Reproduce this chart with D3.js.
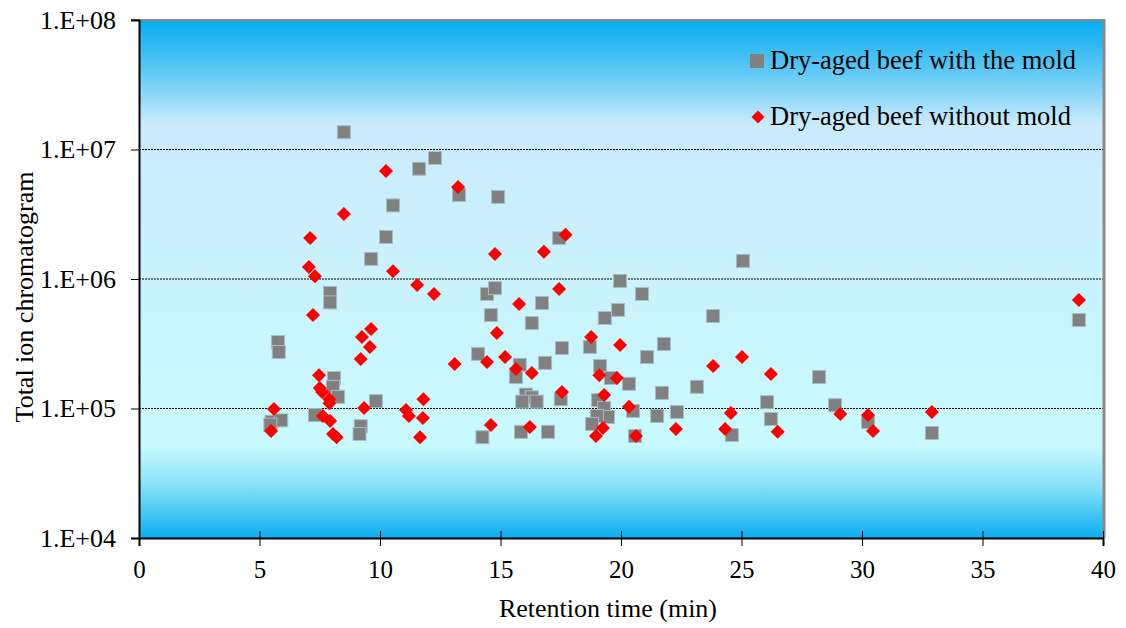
<!DOCTYPE html>
<html>
<head>
<meta charset="utf-8">
<script src="https://cdn.jsdelivr.net/npm/d3@7"></script>
<style>
  body { margin: 0; background: #fff; }
  svg text { font-family: "Liberation Serif", "Tinos", "DejaVu Serif", serif; fill: #000; }
</style>
</head>
<body>
<svg id="chart" width="1126" height="628"></svg>
<script>
// Retention time (min) and total ion chromatogram for each series
const moldTime = [8.5, 11.62, 10.54, 12.28, 13.28, 14.9, 10.25, 9.63, 7.93, 7.93, 14.44, 14.77, 14.6,
  5.77, 5.8, 14.07, 8.09, 8.05, 8.26, 9.83, 7.3, 5.5, 5.9, 5.45, 9.2, 9.15, 14.25,
  17.43, 19.96, 20.87, 16.72, 16.3, 19.88, 19.33, 21.78, 17.55, 18.71, 21.08, 15.8, 15.64,
  16.85, 19.13, 19.58, 20.33, 21.7, 16.05, 16.3, 16.5, 15.9, 17.5, 19.05, 19.3, 19.46, 19.0,
  18.8, 20.5, 21.5, 22.32, 15.85, 16.97, 20.58, 25.06, 23.82, 23.15, 28.22, 26.06, 26.22,
  28.88, 30.25, 24.6, 32.9, 39.0];
const moldTic = [1.36e7, 7.1e6, 3.7e6, 8.6e6, 4.45e6, 4.3e6, 2.11e6, 1.43e6, 7.8e5, 6.6e5, 7.66e5, 8.5e5, 5.27e5,
  3.26e5, 2.73e5, 2.64e5, 1.72e5, 1.47e5, 1.23e5, 1.14e5, 8.9e4, 7.9e4, 8.1e4, 7.5e4, 7.3e4, 6.35e4, 6.0e4,
  2.07e6, 9.66e5, 7.66e5, 6.53e5, 4.57e5, 5.77e5, 5.0e5, 3.15e5, 2.93e5, 2.99e5, 2.5e5, 2.17e5, 1.75e5,
  2.25e5, 2.13e5, 1.72e5, 1.55e5, 1.32e5, 1.28e5, 1.22e5, 1.13e5, 1.13e5, 1.18e5, 1.16e5, 1.01e5, 8.6e4, 8.75e4,
  7.6e4, 9.57e4, 8.75e4, 9.4e4, 6.6e4, 6.6e4, 6.13e4, 1.38e6, 5.18e5, 1.47e5, 1.75e5, 1.12e5, 8.3e4,
  1.06e5, 7.87e4, 6.24e4, 6.47e4, 4.82e5];

const noMoldTime = [10.25, 13.24, 8.5, 7.1, 7.05, 7.3, 10.54, 11.54, 12.24, 14.77, 7.22, 9.63, 9.25, 9.58,
  9.2, 14.85, 13.1, 14.44, 7.47, 7.5, 7.6, 7.9, 7.9, 11.8, 5.6, 9.34, 11.08, 11.2, 11.78, 7.63, 7.93,
  14.6, 5.48, 8.05, 8.2, 11.66, 15.77, 18.76, 19.96, 15.19, 15.64, 16.3, 19.1, 19.83, 17.55, 19.3,
  20.33, 16.22, 19.25, 18.96, 20.62, 22.28, 25.02, 23.82, 26.22, 24.56, 24.32, 26.5, 29.1, 30.25,
  30.46, 32.9, 16.8, 17.43, 17.7, 39.0];
const noMoldTic = [6.82e6, 5.13e6, 3.18e6, 2.07e6, 1.24e6, 1.05e6, 1.15e6, 9.0e5, 7.66e5, 1.56e6, 5.27e5, 4.11e5, 3.56e5, 2.99e5,
  2.41e5, 3.83e5, 2.21e5, 2.29e5, 1.81e5, 1.44e5, 1.34e5, 1.18e5, 1.10e5, 1.18e5, 9.9e4, 1.01e5, 9.73e4, 8.75e4, 8.45e4, 8.75e4, 8.0e4,
  7.46e4, 6.7e4, 6.35e4, 6.0e4, 6.0e4, 6.41e5, 3.56e5, 3.09e5, 2.5e5, 2.02e5, 1.88e5, 1.81e5, 1.72e5, 1.34e5, 1.27e5,
  1.03e5, 7.2e4, 7.07e4, 6.13e4, 6.13e4, 6.95e4, 2.5e5, 2.13e5, 1.85e5, 9.23e4, 6.95e4, 6.6e4, 9.07e4, 8.9e4,
  6.7e4, 9.4e4, 1.62e6, 8.37e5, 2.2e6, 6.88e5];

const xTicks = [0, 5, 10, 15, 20, 25, 30, 35, 40];
const yTicks = [1e4, 1e5, 1e6, 1e7, 1e8];
const yTickLabels = ["1.E+04", "1.E+05", "1.E+06", "1.E+07", "1.E+08"];
const seriesNames = ["Dry-aged beef with the mold", "Dry-aged beef without mold"];

const serif = "'Liberation Serif', 'Tinos', 'DejaVu Serif', serif";

const svg = d3.select("#chart");
const margin = { top: 20, right: 23, bottom: 90, left: 139 };
const width = 1126, height = 628;
const plotW = width - margin.left - margin.right;
const plotH = height - margin.top - margin.bottom;

const x = d3.scaleLinear().domain([0, 40]).range([margin.left, margin.left + plotW]);
const y = d3.scaleLog().domain([1e4, 1e8]).range([margin.top + plotH, margin.top]);

// Background gradient
const defs = svg.append("defs");
const grad = defs.append("linearGradient").attr("id", "bg").attr("x1", 0).attr("y1", 0).attr("x2", 0).attr("y2", 1);
[[0, "#05acef"], [0.1, "#5fc9f5"], [0.2, "#c9ebfc"], [0.5, "#caf3fd"], [0.82, "#c8fafd"], [0.9, "#86e2f8"], [1, "#0aaeee"]]
  .forEach(s => grad.append("stop").attr("offset", s[0]).attr("stop-color", s[1]));

svg.append("rect")
  .attr("x", margin.left).attr("y", margin.top)
  .attr("width", plotW).attr("height", plotH)
  .attr("fill", "url(#bg)");

// Dotted gridlines
svg.append("g")
  .selectAll("line")
  .data(yTicks.filter(d => d > 1e4 && d < 1e8))
  .join("line")
  .attr("x1", margin.left).attr("x2", margin.left + plotW)
  .attr("y1", d => y(d)).attr("y2", d => y(d))
  .attr("stroke", "#000").attr("stroke-width", 1)
  .attr("stroke-dasharray", "2,1");

// Top and right frame (gray)
svg.append("line")
  .attr("x1", margin.left - 8).attr("x2", margin.left + plotW + 1)
  .attr("y1", margin.top).attr("y2", margin.top)
  .attr("stroke", "#8a8a8a").attr("stroke-width", 2);
svg.append("line")
  .attr("x1", margin.left + plotW + 1).attr("x2", margin.left + plotW + 1)
  .attr("y1", margin.top - 1).attr("y2", margin.top + plotH)
  .attr("stroke", "#8a8a8a").attr("stroke-width", 3);

// Axes
const yAxis = svg.append("g")
  .attr("transform", `translate(${margin.left},0)`)
  .attr("font-family", serif)
  .call(d3.axisLeft(y).tickValues(yTicks).tickFormat((d, i) => yTickLabels[i]).tickSize(8).tickPadding(15));
yAxis.attr("font-family", serif).attr("font-size", 26);
yAxis.select(".domain").attr("stroke-width", 2);

const xAxis = svg.append("g")
  .attr("transform", `translate(0,${margin.top + plotH})`)
  .call(d3.axisBottom(x).tickValues(xTicks).tickSize(8).tickPadding(14));
xAxis.attr("font-family", serif).attr("font-size", 25);
xAxis.select(".domain").attr("stroke-width", 2);
xAxis.selectAll(".tick line").attr("y1", -7);

// Points: squares (with mold)
const moldData = moldTime.map((t, i) => ({ t, v: moldTic[i] }));
const noMoldData = noMoldTime.map((t, i) => ({ t, v: noMoldTic[i] }));
const sq = 13;

svg.append("g")
  .selectAll("rect")
  .data(moldData)
  .join("rect")
  .attr("x", d => x(d.t) - sq / 2)
  .attr("y", d => y(d.v) - sq / 2)
  .attr("width", sq).attr("height", sq)
  .attr("fill", "#808080")
  .attr("stroke", "#a9bcc4").attr("stroke-width", 1);

// Points: diamonds (without mold)
const diamond = d3.symbol().type(d3.symbolSquare).size(98);
svg.append("g")
  .selectAll("path")
  .data(noMoldData)
  .join("path")
  .attr("d", diamond)
  .attr("transform", d => `translate(${x(d.t)},${y(d.v)}) rotate(45)`)
  .attr("fill", "#ff0000");

// Legend
const legend = svg.append("g").attr("font-family", serif).attr("font-size", 26.5);
legend.append("rect")
  .attr("x", 750).attr("y", 54).attr("width", 14).attr("height", 14)
  .attr("fill", "#808080");
legend.append("text")
  .attr("x", 770).attr("y", 69)
  .text(seriesNames[0]);
legend.append("path")
  .attr("d", d3.symbol().type(d3.symbolSquare).size(85))
  .attr("transform", "translate(758,117) rotate(45)")
  .attr("fill", "#ff0000");
legend.append("text")
  .attr("x", 770).attr("y", 125)
  .text(seriesNames[1]);

// Axis titles
svg.append("text")
  .attr("x", 608).attr("y", 617)
  .attr("text-anchor", "middle")
  .attr("font-size", 26)
  .text("Retention time (min)");

svg.append("text")
  .attr("transform", `translate(33,297) rotate(-90)`)
  .attr("text-anchor", "middle")
  .attr("font-size", 26)
  .text("Total ion chromatogram");
</script>
</body>
</html>
